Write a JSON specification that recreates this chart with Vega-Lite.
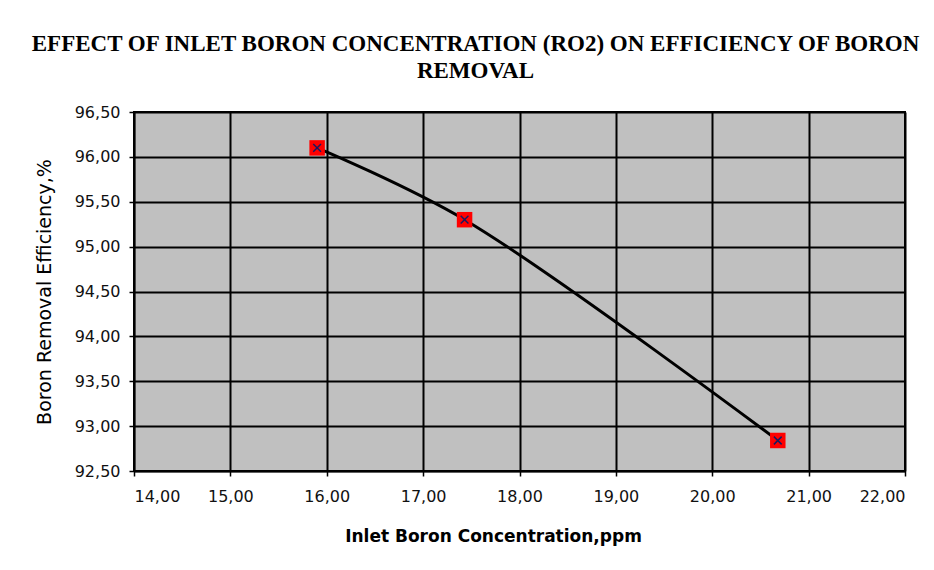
{
  "$schema": "https://vega.github.io/schema/vega-lite/v6.json",
  "width": 771,
  "height": 359,
  "autosize": {"type": "none"},
  "padding": {"left": 134, "top": 112, "right": 29, "bottom": 99},
  "background": "white",
  "title": {
    "text": ["EFFECT OF INLET BORON CONCENTRATION (RO2) ON EFFICIENCY OF BORON", "REMOVAL"],
    "font": "Liberation Serif",
    "fontSize": 23,
    "fontWeight": "bold",
    "color": "black",
    "anchor": "middle",
    "lineHeight": 27,
    "offset": 21,
    "dx": -44
  },
  "data": {
    "values": [
      {"conc": 15.9, "eff": 96.1},
      {"conc": 17.43, "eff": 95.3},
      {"conc": 20.68, "eff": 92.84}
    ]
  },
  "encoding": {
    "x": {
      "field": "conc",
      "type": "quantitative",
      "scale": {"domain": [14, 22], "nice": false, "zero": false},
      "axis": {
        "title": "Inlet Boron Concentration,ppm",
        "values": [14, 15, 16, 17, 18, 19, 20, 21, 22],
        "labelExpr": "replace(format(datum.value, '.2f'), '.', ',')",
        "titleFont": "DejaVu Sans",
        "titleFontSize": 17,
        "titleFontWeight": "bold",
        "titleColor": "black",
        "titlePadding": 24,
        "titleX": 359,
        "titleAlign": "center",
        "labelFont": "DejaVu Sans",
        "labelFontSize": 16,
        "labelColor": "#111",
        "labelPadding": 12,
        "tickSize": 5,
        "tickColor": "black",
        "tickWidth": 1.5,
        "domainColor": "black",
        "domainWidth": 1.5,
        "grid": true,
        "gridColor": "black",
        "gridWidth": 2,
        "gridOpacity": 1
      }
    },
    "y": {
      "field": "eff",
      "type": "quantitative",
      "scale": {"domain": [92.5, 96.5], "nice": false, "zero": false},
      "axis": {
        "title": "Boron Removal Efficiency,%",
        "values": [92.5, 93, 93.5, 94, 94.5, 95, 95.5, 96, 96.5],
        "labelExpr": "replace(format(datum.value, '.2f'), '.', ',')",
        "titleFont": "DejaVu Sans",
        "titleFontSize": 19,
        "titleFontWeight": "normal",
        "titleColor": "black",
        "titlePadding": 20,
        "labelFont": "DejaVu Sans",
        "labelFontSize": 16,
        "labelColor": "#111",
        "labelPadding": 9,
        "tickSize": 5,
        "tickColor": "black",
        "tickWidth": 1.5,
        "domainColor": "black",
        "domainWidth": 1.5,
        "grid": true,
        "gridColor": "black",
        "gridWidth": 2,
        "gridOpacity": 1
      }
    }
  },
  "layer": [
    {
      "mark": {"type": "line", "interpolate": "catmull-rom", "color": "black", "strokeWidth": 3}
    },
    {
      "mark": {"type": "point", "shape": "square", "filled": true, "color": "#ff0000", "size": 240, "opacity": 1}
    },
    {
      "mark": {"type": "point", "shape": "M-1,-1L1,1M-1,1L1,-1", "filled": false, "color": "#1a1a60", "size": 60, "strokeWidth": 1.5, "opacity": 1}
    }
  ],
  "config": {
    "view": {"fill": "#c0c0c0", "stroke": "black", "strokeWidth": 2}
  }
}
